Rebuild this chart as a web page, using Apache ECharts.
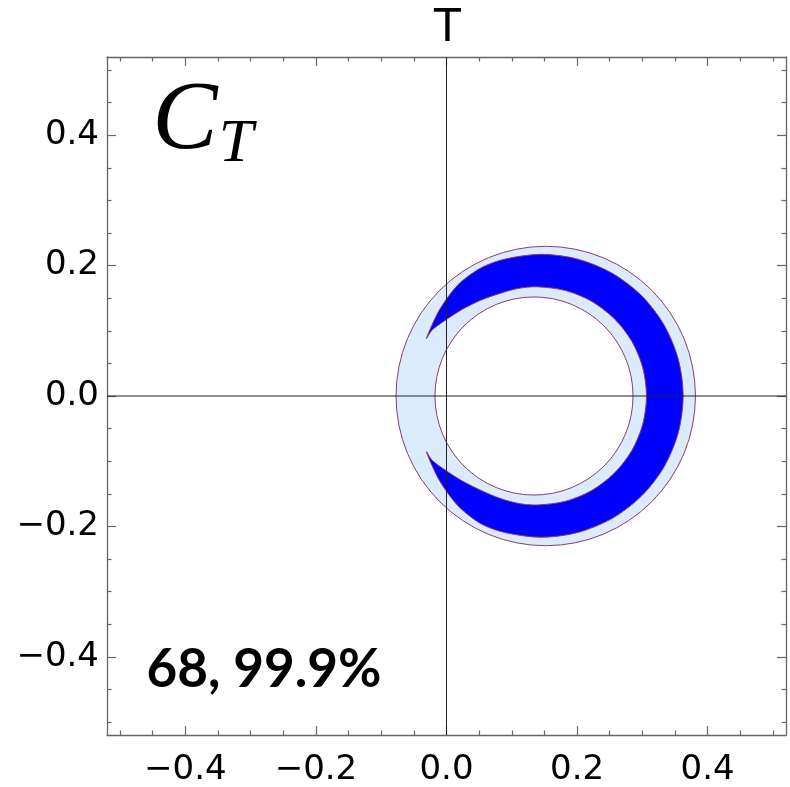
<!DOCTYPE html>
<html>
<head>
<meta charset="utf-8">
<script src="https://cdn.jsdelivr.net/npm/echarts@6/dist/echarts.min.js"></script>
<style>html,body{margin:0;padding:0;background:#fff;}#chart{width:790px;height:787px;}</style>
</head>
<body>
<div id="chart"></div>
<script>
// ---- data ----
const axisRange = [-0.52, 0.52];
const majorTicks = [-0.4, -0.2, 0.0, 0.2, 0.4];
const minorTicks = [-0.5, -0.45, -0.35, -0.3, -0.25, -0.15, -0.1, -0.05, 0.05, 0.1, 0.15, 0.25, 0.3, 0.35, 0.45, 0.5];
// 99.9% region: outer circle [cx, cy, r]; inner hole [cx, cy, r]
const ringOuter = [0.152, 0.0, 0.2293];
const ringHole = [0.134, 0.0, 0.1517];
// 68% region: closed contour (x, y), read along its boundary
const crescentContour = [
  [0.3625, 0.0000], [0.3551, 0.0562], [0.3334, 0.1087], [0.2989, 0.1537],
  [0.2539, 0.1882], [0.2014, 0.2099], [0.1452, 0.2173], [0.0890, 0.2099],
  [0.0534, 0.1969], [0.0227, 0.1755], [0.0052, 0.1558], [-0.0112, 0.1314],
  [-0.0222, 0.1090], [-0.0307, 0.0882],
  [-0.0221, 0.1011], [-0.0045, 0.1144], [0.0232, 0.1324], [0.0523, 0.1469],
  [0.0819, 0.1574], [0.1097, 0.1650], [0.1388, 0.1675], [0.1822, 0.1618],
  [0.2226, 0.1451], [0.2572, 0.1184], [0.2839, 0.0838], [0.3006, 0.0434],
  [0.3063, 0.0000],
  [0.3006, -0.0433], [0.2839, -0.0836], [0.2572, -0.1182], [0.2226, -0.1448],
  [0.1822, -0.1615], [0.1388, -0.1672], [0.1097, -0.1647], [0.0819, -0.1570],
  [0.0523, -0.1446], [0.0232, -0.1298], [-0.0045, -0.1118], [-0.0221, -0.0985],
  [-0.0307, -0.0855],
  [-0.0222, -0.1065], [-0.0112, -0.1290], [0.0052, -0.1535], [0.0227, -0.1735],
  [0.0534, -0.1964], [0.0890, -0.2093], [0.1452, -0.2167], [0.2014, -0.2093],
  [0.2539, -0.1877], [0.2989, -0.1532], [0.3334, -0.1084], [0.3551, -0.0561]
];
const titleText = 'T';
const panelLabel = ['C', 'T'];
const levelText = '68, 99.9%';

// ---- styles ----
const frameColor = '#666';
const contourColor = '#8e3a6e';
const lightFill = '#dcebfc';
const darkFill = '#0000ff';
const tickFont = 'DejaVu Sans';

function fmt(v) {
  const a = Math.abs(v).toFixed(1);
  return (v < -1e-9 ? '\u2212' : '') + a;
}

function makeAxis(kind, position, major, showLabel, showLine) {
  return {
    type: 'value', min: axisRange[0], max: axisRange[1], position: position,
    splitLine: { show: false },
    axisLine: { show: showLine, onZero: false, lineStyle: { color: frameColor, width: 1.3 } },
    axisTick: { show: true, inside: true, length: major ? 9 : 4.5,
      customValues: major ? majorTicks : minorTicks,
      lineStyle: { color: frameColor, width: 1.2 } },
    axisLabel: { show: showLabel, customValues: majorTicks, formatter: fmt,
      fontFamily: tickFont, fontSize: 34, color: '#000',
      margin: kind === 'x' ? 18 : 8 }
  };
}

const chart = echarts.init(document.getElementById('chart'), null, { renderer: 'canvas' });

function circleItem(spec, fill) {
  return function (params, api) {
    const c = api.coord([spec[0], spec[1]]);
    const r = api.size([spec[2], 0])[0];
    return { type: 'circle', shape: { cx: c[0], cy: c[1], r: r },
      style: { fill: fill, stroke: contourColor, lineWidth: 1 } };
  };
}

const option = {
  animation: false,
  grid: { left: 107, top: 57, right: 4, bottom: 52, containLabel: false },
  xAxis: [
    makeAxis('x', 'bottom', true, true, true),
    makeAxis('x', 'bottom', false, false, false),
    makeAxis('x', 'top', true, false, true),
    makeAxis('x', 'top', false, false, false)
  ],
  yAxis: [
    makeAxis('y', 'left', true, true, true),
    makeAxis('y', 'left', false, false, false),
    makeAxis('y', 'right', true, false, true),
    makeAxis('y', 'right', false, false, false)
  ],
  series: [
    { type: 'custom', xAxisIndex: 0, yAxisIndex: 0, z: 2, silent: true,
      data: [ringOuter], renderItem: circleItem(ringOuter, lightFill) },
    { type: 'custom', xAxisIndex: 0, yAxisIndex: 0, z: 3, silent: true,
      data: [ringHole], renderItem: circleItem(ringHole, '#ffffff') },
    { type: 'custom', xAxisIndex: 0, yAxisIndex: 0, z: 4, silent: true,
      data: [0],
      renderItem: function (params, api) {
        const pts = crescentContour.map(p => api.coord(p));
        return { type: 'polygon', shape: { points: pts, smooth: 0.3 },
          style: { fill: darkFill, stroke: contourColor, lineWidth: 1 } };
      } },
    { type: 'line', xAxisIndex: 0, yAxisIndex: 0, z: 10, silent: true, symbol: 'none',
      data: [[0, axisRange[0]], [0, axisRange[1]]],
      lineStyle: { color: '#222', width: 1 } },
    { type: 'line', xAxisIndex: 0, yAxisIndex: 0, z: 10, silent: true, symbol: 'none',
      data: [[axisRange[0], 0], [axisRange[1], 0]],
      lineStyle: { color: '#222', width: 1 } }
  ],
  graphic: [
    { type: 'text', x: 447.5, y: 30, style: { text: titleText, fill: '#000',
        font: '44px "DejaVu Sans"', align: 'center', verticalAlign: 'middle' } },
    { type: 'text', x: 185, y: 122, style: { text: panelLabel[0], fill: '#000',
        font: 'italic 98px "Liberation Serif"', align: 'center', verticalAlign: 'middle' } },
    { type: 'text', x: 236, y: 145, style: { text: panelLabel[1], fill: '#000',
        font: 'italic 62px "Liberation Serif"', align: 'center', verticalAlign: 'middle' } },
    { type: 'text', x: 264, y: 670, style: { text: levelText, fill: '#000',
        font: 'bold 53px Lato', align: 'center', verticalAlign: 'middle' } }
  ]
};
chart.setOption(option);
</script>
</body>
</html>
